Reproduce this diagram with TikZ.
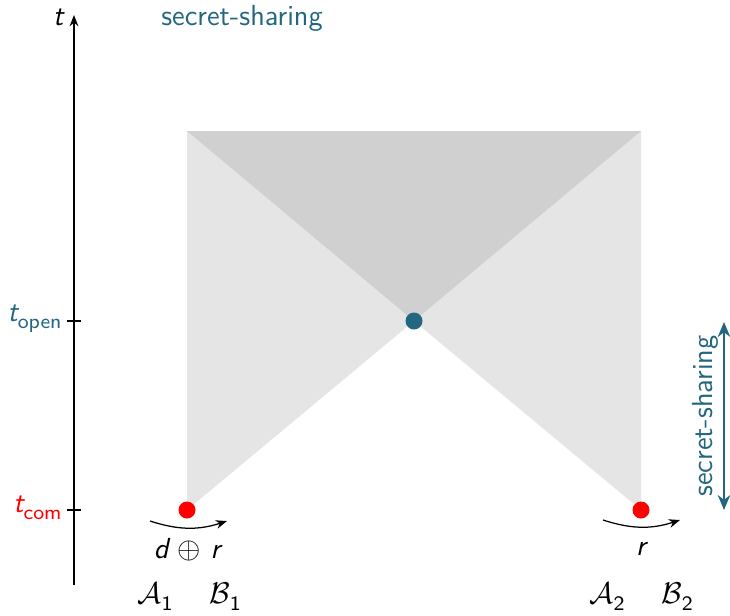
\documentclass[tikz,border=0pt]{standalone}
\usetikzlibrary{arrows.meta}
\definecolor{teal1}{RGB}{35,102,128}
\definecolor{lightg}{RGB}{229,229,229}
\definecolor{darkg}{RGB}{208,208,208}
\newcommand{\sbs}[1]{\raisebox{-0.55ex}{\fontsize{8.2}{9}\selectfont\sffamily\upshape #1}}
\begin{document}
\begin{tikzpicture}[x=0.4pt,y=0.4pt,
  font=\fontsize{11.6}{13.5}\selectfont\sffamily,
  dot/.style={circle,inner sep=0pt,minimum size=6.8pt},
  axisline/.style={line width=0.55pt},
  lbl/.style={inner sep=0pt}]
\useasboundingbox (0,0) rectangle (730,615);
% cones
\fill[lightg] (187,105) -- (187,484) -- (641,484) -- (641,105) -- (414,294) -- cycle;
\fill[darkg] (187,484) -- (641,484) -- (414,294) -- cycle;
% axis
\coordinate (ab) at (74,30);
\coordinate (at) at (74,600);
\draw[axisline,-{Stealth[length=4.5pt,width=3.5pt]}] (ab) -- (at);
\coordinate (to1) at (67,294); \coordinate (to2) at (81,294);
\coordinate (tc1) at (67,105); \coordinate (tc2) at (81,105);
\draw[axisline] (to1) -- (to2);
\draw[axisline] (tc1) -- (tc2);
\node[lbl,anchor=east] (tl) at (64,598) {\itshape t};
\node[lbl,anchor=east,text=teal1] (tol) at (62,296) {\itshape t\sbs{open}};
\node[lbl,anchor=east,text=red] (tcl) at (62,107) {\itshape t\sbs{com}};
\node[lbl,text=teal1] (title) at (242,597) {secret-sharing};
% dots
\node[dot,fill=red] (r1) at (187,105) {};
\node[dot,fill=red] (r2) at (641,105) {};
\node[dot,fill=teal1] (b) at (414,294) {};
% curved arrows
\coordinate (c1s) at (150,94); \coordinate (c1e) at (227,94);
\draw[line width=0.5pt,-{Stealth[length=4.5pt,width=3.5pt]}] (c1s) to[bend right=18] (c1e);
\node[lbl] (m1) at (187,65) {\itshape d \upshape$\oplus$ \itshape r};
\coordinate (c2s) at (603,95); \coordinate (c2e) at (680,95);
\draw[line width=0.5pt,-{Stealth[length=4.5pt,width=3.5pt]}] (c2s) to[bend right=18] (c2e);
\node[lbl] (m2) at (641,66) {\itshape r};
% parties
\node[lbl] (A1) at (155,18) {$\mathcal{A}$\sbs{1}};
\node[lbl] (B1) at (225,18) {$\mathcal{B}$\sbs{1}};
\node[lbl] (A2) at (607,18) {$\mathcal{A}$\sbs{2}};
\node[lbl] (B2) at (677,18) {$\mathcal{B}$\sbs{2}};
% secret sharing interval
\coordinate (s1) at (724,293); \coordinate (s2) at (724,105);
\draw[teal1,line width=0.9pt,{Stealth[length=6pt,width=5pt]}-{Stealth[length=6pt,width=5pt]}] (s1) -- (s2);
\node[lbl,text=teal1,rotate=90] (ssl) at (705,199) {secret-sharing};
\end{tikzpicture}
\end{document}
